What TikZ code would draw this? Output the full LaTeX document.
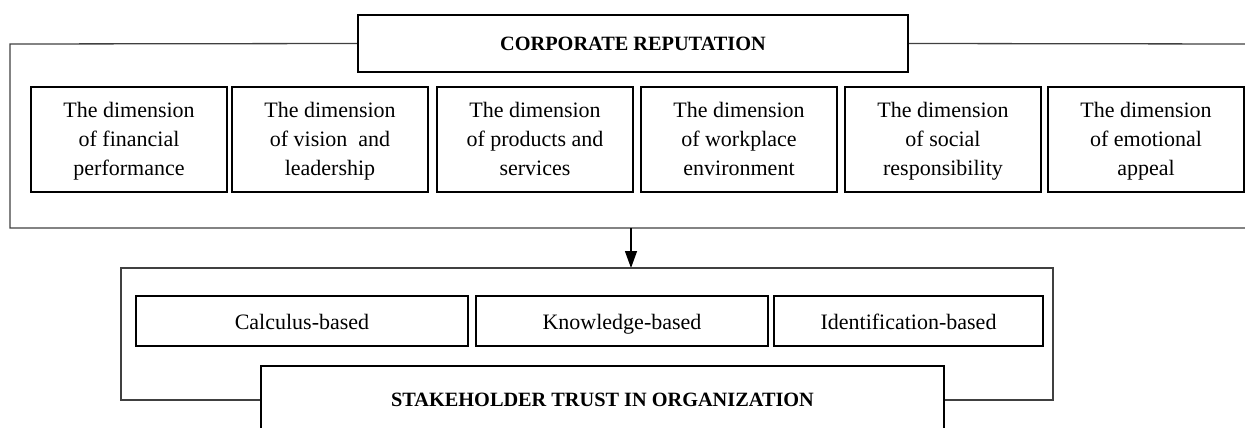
\documentclass[tikz,border=0pt]{standalone}
\usepackage{fontspec}
\setmainfont{Liberation Serif}
\usetikzlibrary{arrows.meta}
\newcommand{\toprl}{\rule{0pt}{23.3pt}}
\begin{document}
\begin{tikzpicture}[x=1pt,y=-1pt,
  thinline/.style={line width=1.3pt,draw=black!75},
  thickbox/.style={draw=black,line width=2.4pt,inner sep=0pt,align=center,
    font=\fontsize{22}{29}\selectfont},
  dimbox/.style={thickbox,minimum width=196pt,minimum height=105pt},
  trustbox/.style={thickbox,minimum height=50pt,text height=21pt,text depth=4pt},
  titlebox/.style={thickbox,font=\fontsize{20.3}{24}\selectfont\bfseries}
]
\useasboundingbox (0,0) rectangle (1245,428);
\clip (0,0) rectangle (1245,428);

% corporate reputation
\node[titlebox,minimum width=550pt,minimum height=57pt] (cr) at (633,43.5) {CORPORATE REPUTATION};
\coordinate (ftl) at (10,44);
\coordinate (fbl) at (10,228);
\coordinate (fbr) at (1250,228);
\coordinate (ftr) at (1250,44);
\draw[thinline] (cr.west) -- (ftl) -- (fbl) -- (fbr);
\draw[thinline] (cr.east) -- (ftr);

\node[dimbox] (d1) at (129,139.5) {\toprl The dimension\\\strut of financial\\\strut performance};
\node[dimbox] (d2) at (330,139.5) {\toprl The dimension\\\strut of vision\ \ and\\\strut leadership};
\node[dimbox] (d3) at (535,139.5) {\toprl The dimension\\\strut of products and\\\strut services};
\node[dimbox] (d4) at (739,139.5) {\toprl The dimension\\\strut of workplace\\\strut environment};
\node[dimbox] (d5) at (943,139.5) {\toprl The dimension\\\strut of social\\\strut responsibility};
\node[dimbox] (d6) at (1146,139.5) {\toprl The dimension\\\strut of emotional\\\strut appeal};

% arrow
\coordinate (as) at (631,228);
\coordinate (ae) at (631,268);
\draw[line width=1.3pt,-{Triangle[length=17pt,width=12pt]}] (as) -- (ae);

% stakeholder trust
\node[titlebox,minimum width=683pt,minimum height=68pt] (st) at (602.5,400) {STAKEHOLDER TRUST IN ORGANIZATION};
\coordinate (ltl) at (121,268);
\coordinate (lbl) at (121,400);
\coordinate (ltr) at (1053,268);
\coordinate (lbr) at (1053,400);
\draw[thinline] (st.west) -- (lbl) -- (ltl) -- (ltr) -- (lbr) -- (st.east);

\node[trustbox,minimum width=332pt] (t1) at (302,321) {Calculus-based};
\node[trustbox,minimum width=292pt] (t2) at (622,321) {Knowledge-based};
\node[trustbox,minimum width=269pt] (t3) at (908.5,321) {Identification-based};
\end{tikzpicture}
\end{document}
